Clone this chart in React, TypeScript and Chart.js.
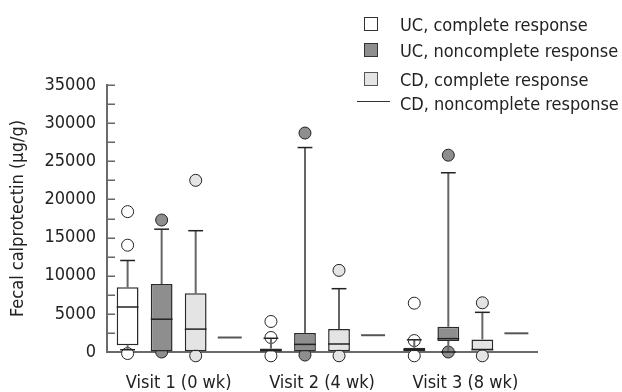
import React, { useEffect, useRef } from 'react';
import { Chart, registerables } from 'chart.js';
Chart.register(...registerables);

const visits = ['Visit 1 (0 wk)', 'Visit 2 (4 wk)', 'Visit 3 (8 wk)'];
const seriesNames = ['UC, complete response', 'UC, noncomplete response', 'CD, complete response', 'CD, noncomplete response'];
const seriesFills = ['#ffffff', '#8e8e8e', '#e4e4e4', 'rgba(0,0,0,0)'];

// UC, complete response
const ucCompleteQ1 = [900, 50, 100];
const ucCompleteMedian = [5900, 200, 300];
const ucCompleteQ3 = [8500, 450, 550];
const ucCompleteLow = [300, 50, 100];
const ucCompleteHigh = [12000, 1800, 1600];
const ucCompleteOutliers = [[18400, 14000, -200], [4000, 1900, -500], [6400, 1500, -500]];

// UC, noncomplete response
const ucNonQ1 = [0, 0, 1450];
const ucNonMedian = [4300, 1000, 1750];
const ucNonQ3 = [8900, 2500, 3300];
const ucNonLow = [0, 0, 0];
const ucNonHigh = [16100, 26800, 23500];
const ucNonOutliers = [[17300, 0], [28700, -400], [25800, 0]];

// CD, complete response
const cdCompleteQ1 = [100, 100, 250];
const cdCompleteMedian = [3000, 1050, 300];
const cdCompleteQ3 = [7700, 3000, 1650];
const cdCompleteLow = [100, 100, 250];
const cdCompleteHigh = [15900, 8300, 5200];
const cdCompleteOutliers = [[22500, -500], [10700, -500], [6450, -500]];

// CD, noncomplete response (single value per visit)
const cdNonMedian = [1900, 2200, 2450];

const yTicksMajor = [0, 5000, 10000, 15000, 20000, 25000, 30000, 35000];
const yMinorStep = 2500;

type Series = { q1: number[]; median: number[]; q3: number[]; low: number[]; high: number[]; outliers: number[][]; isLine?: boolean };

const series: Series[] = [
  { q1: ucCompleteQ1, median: ucCompleteMedian, q3: ucCompleteQ3, low: ucCompleteLow, high: ucCompleteHigh, outliers: ucCompleteOutliers },
  { q1: ucNonQ1, median: ucNonMedian, q3: ucNonQ3, low: ucNonLow, high: ucNonHigh, outliers: ucNonOutliers },
  { q1: cdCompleteQ1, median: cdCompleteMedian, q3: cdCompleteQ3, low: cdCompleteLow, high: cdCompleteHigh, outliers: cdCompleteOutliers },
  { q1: cdNonMedian, median: cdNonMedian, q3: cdNonMedian, low: cdNonMedian, high: cdNonMedian, outliers: [[], [], []], isLine: true },
];

const FONT = '"DejaVu Sans Condensed", "DejaVu Sans", Verdana, sans-serif';
const FS = 18;

const boxPlugin = {
  id: 'boxDecor',
  beforeDatasetsDraw(chart: any) {
    const ctx = chart.ctx;
    const ys = chart.scales.y;
    series.forEach((s, di) => {
      if (s.isLine) return;
      const meta = chart.getDatasetMeta(di);
      meta.data.forEach((bar: any, i: number) => {
        const { x } = bar.getProps(['x'], true);
        ctx.save();
        s.outliers[i].forEach((v) => {
          ctx.beginPath();
          ctx.arc(x, ys.getPixelForValue(v), 6, 0, Math.PI * 2);
          ctx.fillStyle = seriesFills[di];
          ctx.fill();
          ctx.lineWidth = 1;
          ctx.strokeStyle = '#222';
          ctx.stroke();
        });
        ctx.strokeStyle = '#666';
        ctx.lineWidth = 2;
        ctx.beginPath();
        ctx.moveTo(x, ys.getPixelForValue(s.q3[i]));
        ctx.lineTo(x, ys.getPixelForValue(s.high[i]));
        if (s.low[i] < s.q1[i]) {
          ctx.moveTo(x, ys.getPixelForValue(s.q1[i]));
          ctx.lineTo(x, ys.getPixelForValue(s.low[i]));
        }
        ctx.stroke();
        ctx.restore();
      });
    });
  },
  afterDatasetsDraw(chart: any) {
    const ctx = chart.ctx;
    const ys = chart.scales.y;
    series.forEach((s, di) => {
      const meta = chart.getDatasetMeta(di);
      meta.data.forEach((bar: any, i: number) => {
        const { x, width } = bar.getProps(['x', 'width'], true);
        ctx.save();
        if (s.isLine) {
          const w = width * 1.1;
          ctx.strokeStyle = '#555';
          ctx.lineWidth = 2;
          ctx.beginPath();
          const py = ys.getPixelForValue(s.median[i]);
          ctx.moveTo(x - w / 2, py);
          ctx.lineTo(x + w / 2, py);
          ctx.stroke();
          ctx.restore();
          return;
        }
        ctx.strokeStyle = '#222';
        ctx.lineWidth = 1.5;
        ctx.beginPath();
        const my = ys.getPixelForValue(s.median[i]);
        ctx.moveTo(x - width / 2, my);
        ctx.lineTo(x + width / 2, my);
        ctx.stroke();
        const cw = width * 0.68;
        ctx.beginPath();
        const hy = ys.getPixelForValue(s.high[i]);
        ctx.moveTo(x - cw / 2, hy);
        ctx.lineTo(x + cw / 2, hy);
        if (s.low[i] < s.q1[i]) {
          const ly = ys.getPixelForValue(s.low[i]);
          ctx.moveTo(x - cw / 2, ly);
          ctx.lineTo(x + cw / 2, ly);
        }
        ctx.stroke();
        ctx.restore();
      });
    });
  },
  afterDraw(chart: any) {
    const ctx = chart.ctx;
    const ys = chart.scales.y;
    const left = chart.chartArea.left;
    ctx.save();
    ctx.strokeStyle = '#666';
    ctx.lineWidth = 1.5;
    ctx.beginPath();
    for (let v = ys.min; v <= ys.max; v += yMinorStep) {
      const py = Math.round(ys.getPixelForValue(v)) + 0.25;
      ctx.moveTo(left, py);
      ctx.lineTo(left + 8, py);
    }
    ctx.stroke();
    ctx.restore();
  },
};

export default function App() {
  const ref = useRef<HTMLCanvasElement | null>(null);
  useEffect(() => {
    if (!ref.current) return;
    const chart = new Chart(ref.current, {
      type: 'bar',
      data: {
        labels: visits,
        datasets: series.map((s, di) => ({
          label: seriesNames[di],
          data: s.q1.map((v, i) => [v, s.q3[i]]) as any,
          backgroundColor: seriesFills[di],
          borderColor: s.isLine ? 'rgba(0,0,0,0)' : '#2a2a2a',
          borderWidth: s.isLine ? 0 : 1.5,
          borderSkipped: false,
          categoryPercentage: 0.95,
          barPercentage: 0.64,
        })),
      },
      options: {
        responsive: false,
        animation: false,
        devicePixelRatio: 1,
        layout: { padding: { top: 85, right: 85, left: 0, bottom: 0 } },
        plugins: { legend: { display: false }, tooltip: { enabled: false } },
        scales: {
          x: {
            z: 1,
            grid: { display: false, drawTicks: false },
            border: { display: true, color: '#6b6b6b', width: 2 },
            ticks: { color: '#222', font: { family: FONT, size: FS }, padding: 21, maxRotation: 0 },
            afterFit: (s: any) => { s.height = 40; },
          },
          y: {
            min: 0,
            max: 35000,
            afterBuildTicks: (s: any) => { s.ticks = yTicksMajor.map((v) => ({ value: v })); },
            grid: { display: true, drawOnChartArea: false, drawTicks: false },
            border: { display: true, color: '#6b6b6b', width: 2 },
            ticks: { color: '#222', font: { family: FONT, size: FS }, padding: 11, callback: (v: any) => String(v) },
            title: {
              display: true,
              text: 'Fecal calprotectin (μg/g)',
              color: '#222',
              font: { family: FONT, size: FS },
              padding: { top: 8, bottom: 0 },
            },
            afterFit: (s: any) => { s.width = 107; },
          },
        },
      },
      plugins: [boxPlugin],
    } as any);
    return () => chart.destroy();
  }, []);

  const textStyle: React.CSSProperties = {
    position: 'absolute', left: 400, fontFamily: FONT, fontSize: FS, lineHeight: '20px', color: '#222', whiteSpace: 'nowrap',
  };
  const sq = (top: number, fill: string, border: string): React.CSSProperties => ({
    position: 'absolute', left: 364, top, width: 12, height: 12, background: fill, border: `1.5px solid ${border}`,
  });

  return (
    <div style={{ position: 'fixed', left: 0, top: 0, width: 622, height: 392, background: '#fff' }}>
      <canvas ref={ref} width={622} height={392} style={{ display: 'block', width: 622, height: 392 }} />
      <div style={sq(17, seriesFills[0], '#333')} />
      <div style={{ ...textStyle, top: 15 }}>{seriesNames[0]}</div>
      <div style={sq(43, seriesFills[1], '#333')} />
      <div style={{ ...textStyle, top: 41 }}>{seriesNames[1]}</div>
      <div style={sq(72, seriesFills[2], '#555')} />
      <div style={{ ...textStyle, top: 70 }}>{seriesNames[2]}</div>
      <div style={{ position: 'absolute', left: 357, top: 101, width: 33, height: 0, borderTop: '1.5px solid #333' }} />
      <div style={{ ...textStyle, top: 94 }}>{seriesNames[3]}</div>
    </div>
  );
}
